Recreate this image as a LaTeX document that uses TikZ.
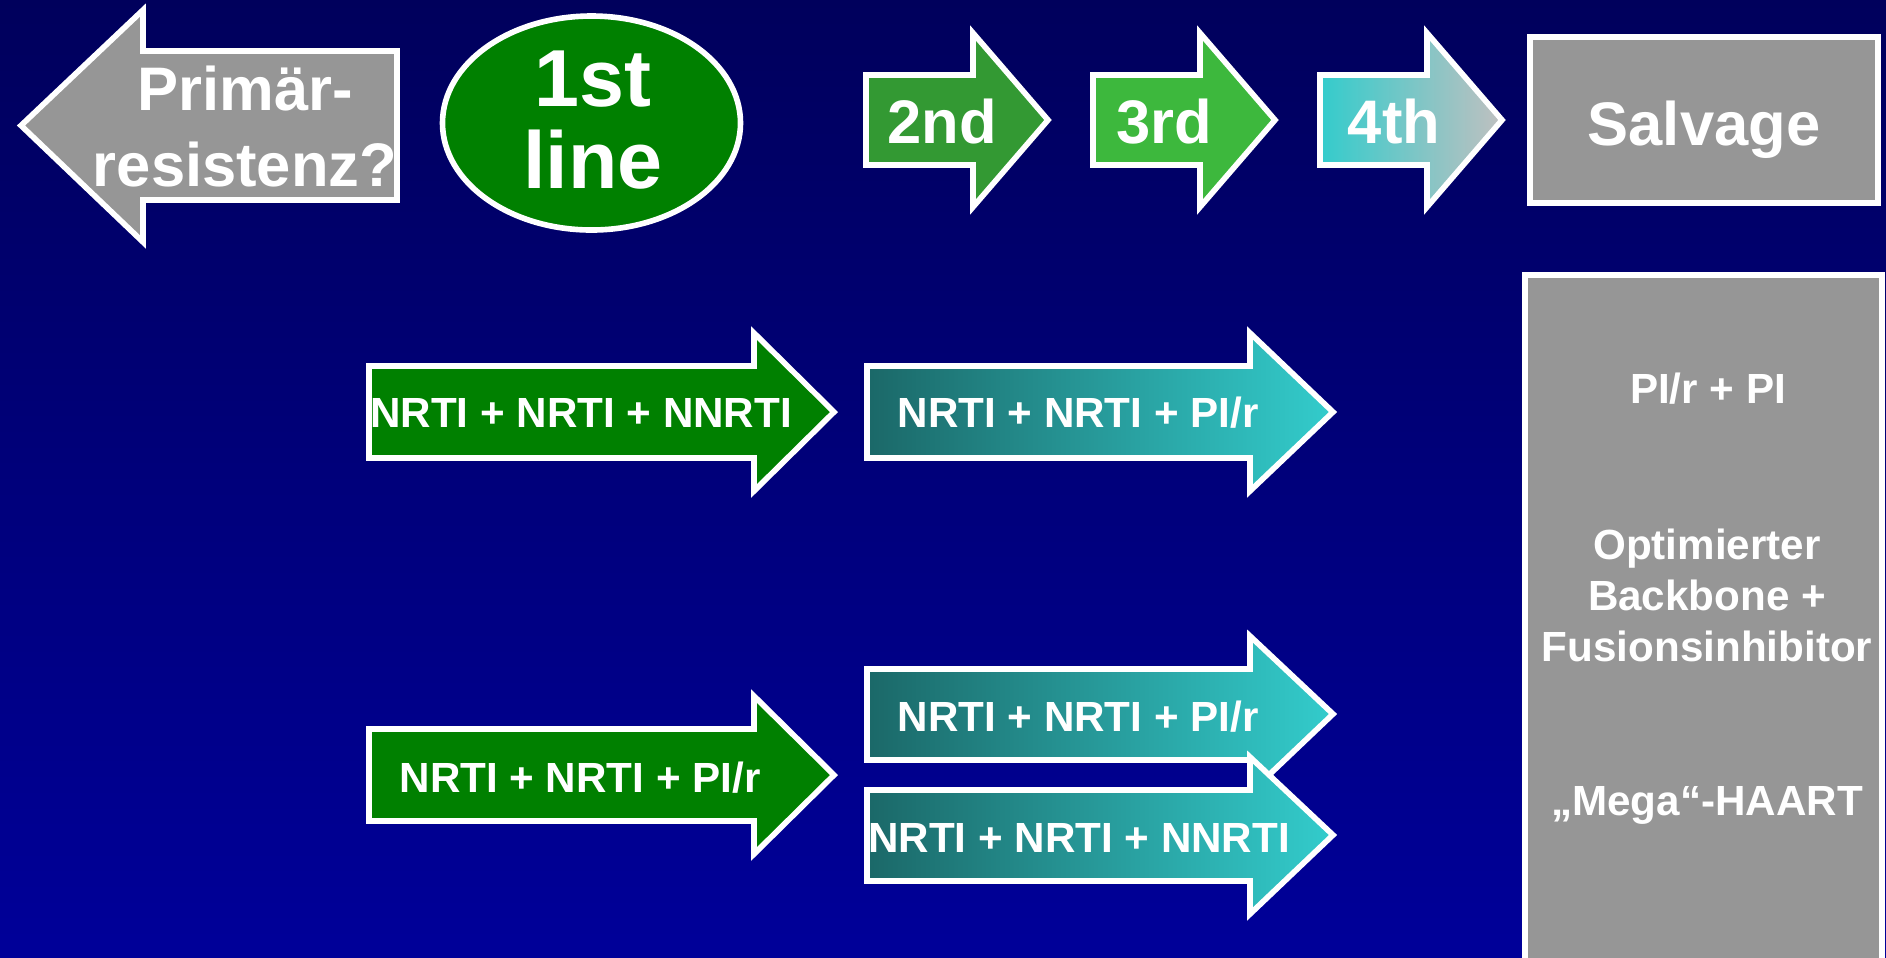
\documentclass[tikz,border=0pt]{standalone}
\usepackage{fontspec}
\setmainfont{Liberation Sans}
\usepackage{xcolor}
\usepackage{tikz}
\usetikzlibrary{positioning,calc}

\definecolor{bgtop}{HTML}{00005C}
\definecolor{bgbottom}{HTML}{000099}
\definecolor{panelgray}{HTML}{969696}
\definecolor{darkgreen}{HTML}{008000}
\definecolor{midgreen}{HTML}{339933}
\definecolor{lightgreen}{HTML}{3DB83D}
\definecolor{tealdark}{HTML}{1B6868}
\definecolor{tealcyan}{HTML}{33CCCC}
\definecolor{silvergray}{HTML}{C0C0C0}

\tikzset{
  frame/.style={draw=white, line width=1.6pt, line join=miter},
  drugtext/.style={text=white, inner sep=0pt, font=\bfseries\fontsize{12}{14.5}\selectfont},
  linetext/.style={text=white, inner sep=0pt, font=\bfseries\fontsize{17.5}{21.9}\selectfont},
}

\begin{document}
\begin{tikzpicture}
  \useasboundingbox (0,0) rectangle (18.86,-9.57);
  % Background
  \shade[top color=bgtop, bottom color=bgbottom] (0,0) rectangle (18.86,-9.57);

  % Top row: Primaerresistenz, 1st line, 2nd, 3rd, 4th, Salvage
  \draw[frame, fill=panelgray] (3.97,-0.51) -- (1.43,-0.51) -- (1.43,-0.10) -- (0.21,-1.255)
    -- (1.43,-2.42) -- (1.43,-2.00) -- (3.97,-2.00) -- cycle;
  \node[linetext, align=center] (prim) at (2.45,-1.265) {Primär-\\resistenz?};

  \draw[frame, fill=darkgreen] (5.915,-1.23) ellipse [x radius=1.49, y radius=1.07];
  \node[text=white, inner sep=0pt, align=center, font=\bfseries\fontsize{23}{23.3}\selectfont] (first) at (5.93,-1.20) {1st\\line};

  \draw[frame, fill=midgreen] (8.66,-0.75) -- (9.73,-0.75) -- (9.73,-0.33) -- (10.48,-1.20)
    -- (9.73,-2.07) -- (9.73,-1.65) -- (8.66,-1.65) -- cycle;
  \node[linetext, anchor=base] (second) at (9.42,-1.43) {2nd};

  \draw[frame, fill=lightgreen] (10.93,-0.75) -- (12.00,-0.75) -- (12.00,-0.33) -- (12.75,-1.20)
    -- (12.00,-2.07) -- (12.00,-1.65) -- (10.93,-1.65) -- cycle;
  \node[linetext, anchor=base] (third) at (11.64,-1.43) {3rd};

  \shadedraw[frame, left color=tealcyan, right color=silvergray] (13.20,-0.75) -- (14.27,-0.75) -- (14.27,-0.33) -- (15.02,-1.20)
    -- (14.27,-2.07) -- (14.27,-1.65) -- (13.20,-1.65) -- cycle;
  \node[linetext, anchor=base] (fourth) at (13.94,-1.43) {4th};

  \draw[frame, fill=panelgray] (15.30,-0.37) rectangle (18.78,-2.03);
  \node[linetext, anchor=base] (salvage) at (17.04,-1.45) {Salvage};

  % First regimen: NNRTI based
  \draw[frame, fill=darkgreen] (3.69,-3.66) -- (7.54,-3.66) -- (7.54,-3.33) -- (8.34,-4.12)
    -- (7.54,-4.91) -- (7.54,-4.58) -- (3.69,-4.58) -- cycle;
  \node[drugtext, anchor=base] (nnrtiA) at (5.81,-4.27) {NRTI + NRTI + NNRTI};

  \shadedraw[frame, left color=tealdark, right color=tealcyan] (8.67,-3.66) -- (12.50,-3.66) -- (12.50,-3.33) -- (13.33,-4.12)
    -- (12.50,-4.91) -- (12.50,-4.58) -- (8.67,-4.58) -- cycle;
  \node[drugtext, anchor=base] (pirA) at (10.78,-4.27) {NRTI + NRTI + PI/r};

  % First regimen: PI/r based
  \draw[frame, fill=darkgreen] (3.69,-7.29) -- (7.54,-7.29) -- (7.54,-6.96) -- (8.34,-7.75)
    -- (7.54,-8.54) -- (7.54,-8.21) -- (3.69,-8.21) -- cycle;
  \node[drugtext, anchor=base] (pirB) at (5.80,-7.92) {NRTI + NRTI + PI/r};

  \shadedraw[frame, left color=tealdark, right color=tealcyan] (8.67,-6.69) -- (12.50,-6.69) -- (12.50,-6.36) -- (13.33,-7.14)
    -- (12.50,-7.93) -- (12.50,-7.60) -- (8.67,-7.60) -- cycle;
  \node[drugtext, anchor=base] (pirC) at (10.78,-7.31) {NRTI + NRTI + PI/r};

  \shadedraw[frame, left color=tealdark, right color=tealcyan] (8.67,-7.90) -- (12.50,-7.90) -- (12.50,-7.57) -- (13.33,-8.35)
    -- (12.50,-9.14) -- (12.50,-8.81) -- (8.67,-8.81) -- cycle;
  \node[drugtext, anchor=base] (nnrtiB) at (10.79,-8.52) {NRTI + NRTI + NNRTI};

  % Salvage options
  \draw[frame, fill=panelgray] (15.25,-2.75) rectangle (18.82,-9.80);
  \node[drugtext, anchor=base] (pipi) at (17.08,-4.03) {PI/r + PI};
  \node[drugtext, align=center] (fusion) at (17.07,-5.95) {Optimierter\\Backbone +\\Fusionsinhibitor};
  \node[drugtext, anchor=base] (mega) at (17.07,-8.15) {„Mega“-HAART};
\end{tikzpicture}
\end{document}
